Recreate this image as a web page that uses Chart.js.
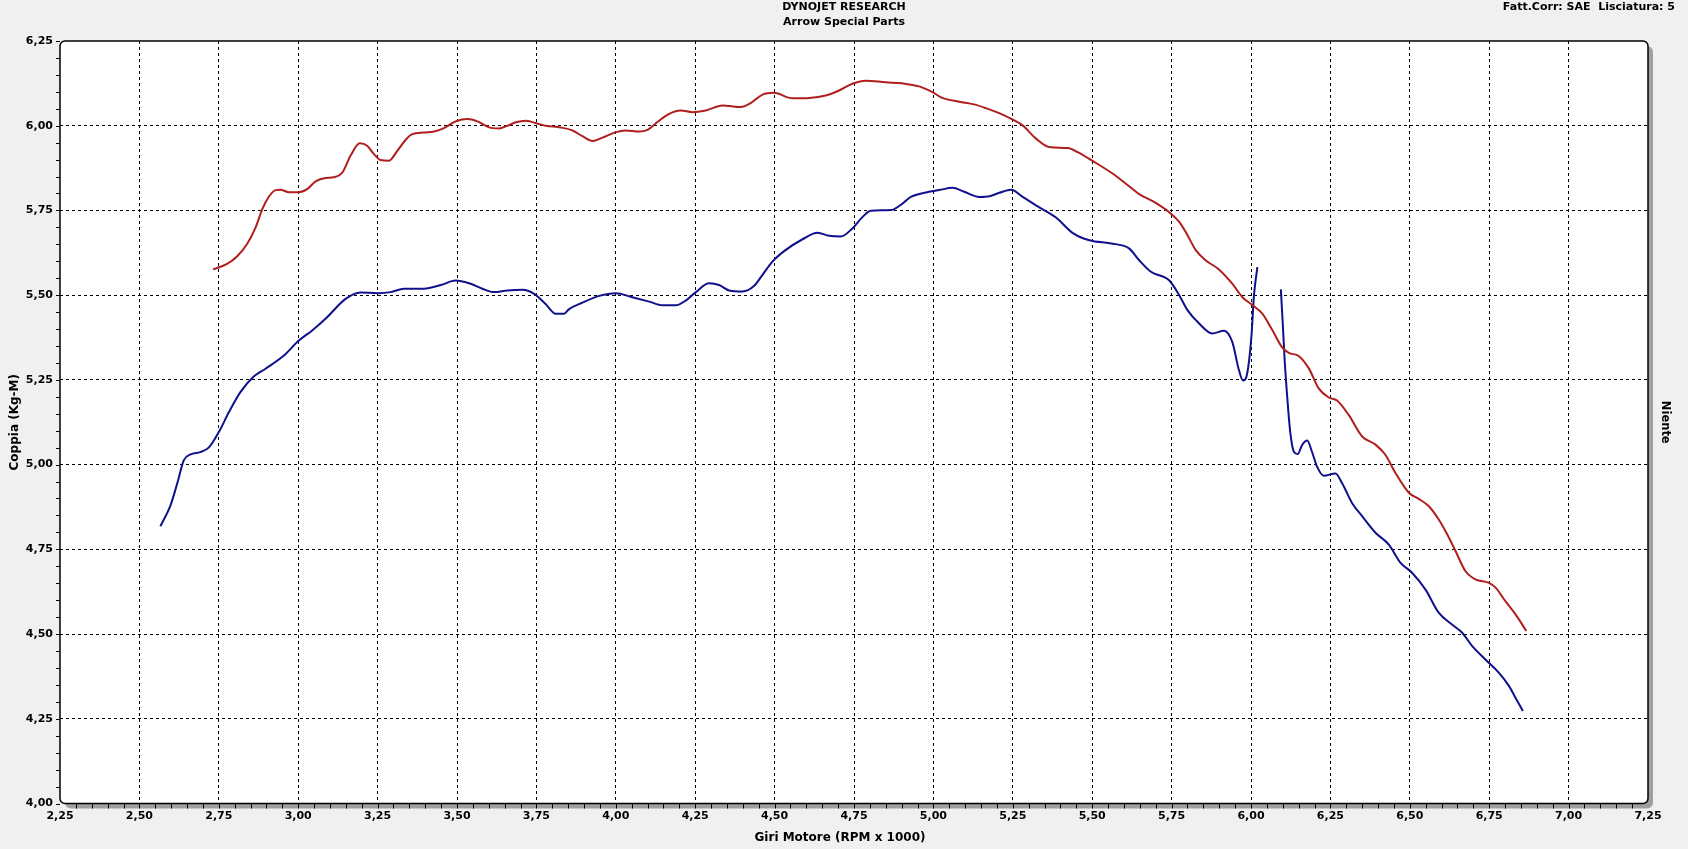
<!DOCTYPE html>
<html>
<head>
<meta charset="utf-8">
<script src="https://cdn.jsdelivr.net/npm/chart.js@4"></script>
<style>
html,body{margin:0;padding:0;background:#f0f0f0;}
#wrap{width:1688px;height:849px;position:relative;}
</style>
</head>
<body>
<div id="wrap"><canvas id="c"></canvas></div>
<script>
// ---- data ----
const titleLines = ["DYNOJET RESEARCH", "Arrow Special Parts"];
const infoText = "Fatt.Corr: SAE  Lisciatura: 5";
const xTitle = "Giri Motore (RPM x 1000)";
const yTitle = "Coppia (Kg-M)";
const rightLabel = "Niente";

const xMin = 2.25, xMax = 7.25, yMin = 4.00, yMax = 6.25, tickStep = 0.25, minorStep = 0.05;

const redRpm = [2.732,2.776,2.808,2.839,2.866,2.887,2.908,2.929,2.944,2.971,3.002,3.028,3.055,3.086,3.112,3.139,3.165,3.194,3.217,3.238,3.259,3.286,3.312,3.338,3.359,3.396,3.428,3.459,3.496,3.533,3.564,3.601,3.632,3.659,3.685,3.716,3.747,3.779,3.826,3.864,3.895,3.927,3.958,4.000,4.031,4.073,4.100,4.131,4.168,4.205,4.241,4.283,4.336,4.393,4.425,4.462,4.498,4.556,4.609,4.661,4.703,4.745,4.787,4.850,4.902,4.955,4.997,5.028,5.081,5.128,5.165,5.207,5.250,5.281,5.323,5.365,5.423,5.454,5.501,5.564,5.606,5.648,5.695,5.747,5.774,5.800,5.826,5.857,5.899,5.941,5.973,6.004,6.035,6.067,6.098,6.119,6.151,6.182,6.213,6.245,6.271,6.308,6.350,6.392,6.423,6.455,6.497,6.528,6.560,6.591,6.618,6.644,6.675,6.707,6.749,6.770,6.801,6.833,6.867];
const redTorque = [5.576,5.592,5.615,5.651,5.700,5.754,5.791,5.810,5.811,5.804,5.804,5.813,5.836,5.846,5.848,5.862,5.912,5.948,5.941,5.917,5.899,5.897,5.926,5.958,5.975,5.980,5.983,5.993,6.013,6.020,6.013,5.995,5.992,6.000,6.010,6.015,6.008,6.000,5.995,5.986,5.969,5.955,5.965,5.981,5.986,5.983,5.988,6.011,6.035,6.045,6.040,6.045,6.060,6.055,6.067,6.092,6.097,6.081,6.082,6.089,6.104,6.124,6.133,6.128,6.125,6.116,6.099,6.082,6.071,6.063,6.052,6.037,6.018,6.001,5.962,5.937,5.934,5.922,5.896,5.859,5.829,5.798,5.775,5.741,5.716,5.677,5.633,5.603,5.576,5.534,5.494,5.471,5.446,5.397,5.346,5.330,5.320,5.284,5.225,5.198,5.189,5.146,5.083,5.059,5.029,4.975,4.917,4.899,4.877,4.838,4.794,4.745,4.686,4.661,4.651,4.637,4.597,4.558,4.509];

const blueRpm = [2.566,2.598,2.619,2.640,2.661,2.692,2.718,2.750,2.782,2.818,2.860,2.897,2.955,3.002,3.044,3.091,3.149,3.196,3.249,3.291,3.333,3.396,3.449,3.496,3.538,3.580,3.617,3.659,3.706,3.743,3.779,3.811,3.837,3.853,3.895,3.948,4.000,4.052,4.105,4.147,4.189,4.220,4.252,4.294,4.325,4.357,4.399,4.435,4.462,4.493,4.530,4.588,4.635,4.672,4.708,4.745,4.777,4.803,4.866,4.897,4.929,4.986,5.018,5.060,5.097,5.144,5.177,5.208,5.245,5.281,5.323,5.386,5.438,5.491,5.564,5.616,5.648,5.685,5.742,5.774,5.800,5.836,5.878,5.915,5.941,5.962,5.975,5.988,6.002,6.009,6.020,6.057,6.094,6.100,6.106,6.114,6.124,6.135,6.147,6.161,6.177,6.192,6.208,6.229,6.266,6.287,6.318,6.350,6.392,6.434,6.471,6.507,6.549,6.591,6.633,6.665,6.696,6.738,6.780,6.812,6.838,6.856];
const blueTorque = [4.818,4.880,4.944,5.013,5.030,5.037,5.050,5.096,5.155,5.214,5.260,5.283,5.322,5.366,5.396,5.435,5.489,5.508,5.506,5.509,5.519,5.519,5.530,5.543,5.535,5.519,5.509,5.514,5.516,5.504,5.474,5.445,5.445,5.459,5.478,5.498,5.506,5.494,5.481,5.470,5.470,5.484,5.509,5.535,5.530,5.514,5.511,5.527,5.560,5.599,5.630,5.665,5.684,5.675,5.673,5.697,5.731,5.749,5.751,5.766,5.790,5.805,5.810,5.817,5.805,5.790,5.792,5.802,5.811,5.790,5.765,5.729,5.684,5.662,5.652,5.638,5.603,5.569,5.544,5.500,5.456,5.417,5.387,5.395,5.362,5.279,5.248,5.269,5.387,5.495,5.583,null,5.517,5.416,5.308,5.200,5.092,5.038,5.031,5.058,5.071,5.038,4.994,4.967,4.974,4.945,4.887,4.848,4.799,4.764,4.710,4.681,4.632,4.563,4.528,4.504,4.465,4.425,4.386,4.347,4.303,4.273];

const zip = (xs, ys) => xs.map((x, i) => ({x: x, y: ys[i]}));
const fmt = v => Number(v).toFixed(2).replace('.', ',');
const FONT = '"DejaVu Sans", Verdana, sans-serif';

const frame = {
  id: 'frame',
  beforeDraw(chart) {
    const {ctx, chartArea: a} = chart;
    ctx.save();
    ctx.fillStyle = '#f0f0f0';
    ctx.fillRect(0, 0, chart.width, chart.height);
    ctx.fillStyle = '#a0a0a0';
    ctx.beginPath();
    ctx.roundRect(a.left + 5, a.top + 5, a.right - a.left, a.bottom - a.top, 6);
    ctx.fill();
    ctx.fillStyle = '#ffffff';
    ctx.beginPath();
    ctx.roundRect(a.left, a.top, a.right - a.left, a.bottom - a.top, 5);
    ctx.fill();
    ctx.restore();
  },
  afterDraw(chart) {
    const {ctx, chartArea: a, scales} = chart;
    ctx.save();
    ctx.strokeStyle = '#000';
    ctx.lineWidth = 1.5;
    ctx.beginPath();
    ctx.roundRect(a.left, a.top, a.right - a.left, a.bottom - a.top, 5);
    ctx.stroke();
    // minor ticks
    ctx.lineWidth = 1;
    ctx.beginPath();
    const nY = Math.round((yMax - yMin) / minorStep);
    for (let i = 0; i <= nY; i++) {
      const y = Math.round(scales.y.getPixelForValue(yMin + i * minorStep)) + 0.5;
      ctx.moveTo(a.left - 4, y); ctx.lineTo(a.left, y);
    }
    const nX = Math.round((xMax - xMin) / minorStep);
    for (let i = 1; i < nX; i++) {
      const x = Math.round(scales.x.getPixelForValue(xMin + i * minorStep)) + 0.5;
      ctx.moveTo(x, a.bottom); ctx.lineTo(x, a.bottom + 5);
    }
    ctx.stroke();
    // texts
    ctx.fillStyle = '#000';
    ctx.font = 'bold 11px ' + FONT;
    ctx.textBaseline = 'middle';
    ctx.textAlign = 'right';
    ctx.fillText(infoText, 1675, 7);
    ctx.font = 'bold 12px ' + FONT;
    ctx.textAlign = 'center';
    ctx.fillText(xTitle, 840, 838);
    ctx.restore();
  }
};

const gridColor = (c) => {
  const n = c.scale.ticks.length;
  return (c.index === 0 || c.index === n - 1) ? 'rgba(0,0,0,0)' : '#000';
};

new Chart(document.getElementById('c'), {
  type: 'line',
  data: {
    datasets: [
      {label: 'Run 1', data: zip(redRpm, redTorque), borderColor: '#b01e1e', borderWidth: 2, pointRadius: 0, cubicInterpolationMode: 'monotone', fill: false},
      {label: 'Run 2', data: zip(blueRpm, blueTorque), borderColor: '#10108c', borderWidth: 2, pointRadius: 0, cubicInterpolationMode: 'monotone', fill: false, spanGaps: false}
    ]
  },
  options: {
    responsive: true,
    maintainAspectRatio: false,
    animation: false,
    layout: {padding: {left: 0, right: 0, top: 0, bottom: 0}},
    plugins: {
      legend: {display: false},
      tooltip: {enabled: false},
      title: {
        display: true,
        text: titleLines,
        color: '#000',
        font: {family: FONT, size: 11, weight: 'bold', lineHeight: 1.3636},
        padding: {top: 0, bottom: 11}
      }
    },
    scales: {
      x: {
        type: 'linear', min: xMin, max: xMax,
        afterFit(s) { s.height = 45.5; s.paddingLeft = 0; s.paddingRight = 0; },
        ticks: {stepSize: tickStep, autoSkip: false, maxRotation: 0, padding: 6, color: '#000',
          font: {family: FONT, size: 11, weight: 'bold'}, callback: v => fmt(v)},
        grid: {color: gridColor, lineWidth: 1, drawTicks: false},
        border: {display: false, dash: [3, 3]}
      },
      y: {
        type: 'linear', min: yMin, max: yMax,
        afterFit(s) { s.width = 60; s.paddingTop = 0; s.paddingBottom = 0; },
        ticks: {stepSize: tickStep, autoSkip: false, padding: 7, color: '#000',
          font: {family: FONT, size: 11, weight: 'bold'}, callback: v => fmt(v)},
        grid: {color: gridColor, lineWidth: 1, drawTicks: false},
        border: {display: false, dash: [3, 3]},
        title: {display: true, text: yTitle, color: '#000', font: {family: FONT, size: 12, weight: 'bold'}, padding: {top: 8, bottom: 0}}
      },
      yRight: {
        type: 'linear', position: 'right', min: 0, max: 1,
        afterFit(s) { s.width = 40; s.paddingTop = 0; s.paddingBottom = 0; },
        ticks: {display: false},
        grid: {display: false, drawTicks: false},
        border: {display: false},
        title: {display: true, text: rightLabel, color: '#000', font: {family: FONT, size: 11.5, weight: 'bold'}, padding: {top: 16, bottom: 0}}
      }
    }
  },
  plugins: [frame]
});
</script>
</body>
</html>
